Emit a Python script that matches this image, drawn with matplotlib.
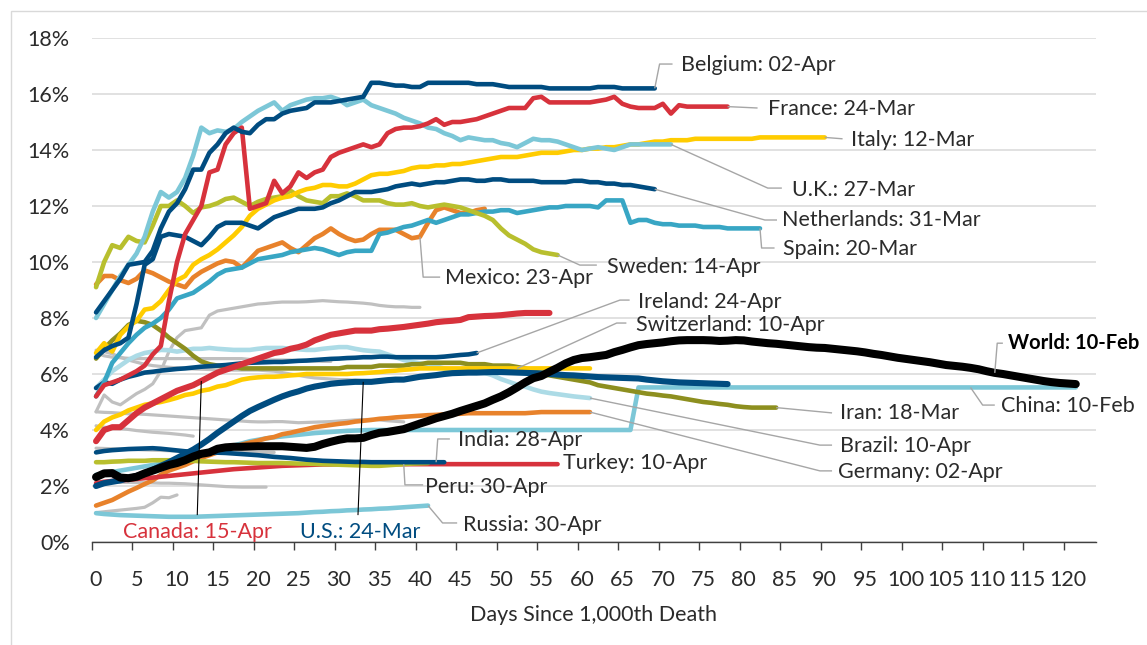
import numpy as np
import matplotlib
matplotlib.use("Agg")
import matplotlib.pyplot as plt
from matplotlib.patches import Rectangle

plt.rcParams['font.family'] = ['Lato', 'DejaVu Sans']

# ---------------- data (case fatality rate, %, by days since 1,000th death) ----------------
belgium = [8.2, 8.6, 9.0, 9.4, 9.9, 9.95, 10.0, 10.4, 11.2, 11.8,
           12.1, 12.6, 13.3, 13.3, 13.9, 14.2, 14.6, 14.8, 14.65, 14.6,
           14.9, 15.1, 15.1, 15.3, 15.4, 15.45, 15.5, 15.7, 15.7, 15.7,
           15.75, 15.8, 15.85, 15.9, 16.4, 16.4, 16.35, 16.3, 16.3, 16.25,
           16.25, 16.4, 16.4, 16.4, 16.4, 16.4, 16.4, 16.35, 16.35, 16.35,
           16.3, 16.25, 16.25, 16.25, 16.25, 16.25, 16.2, 16.2, 16.2, 16.2,
           16.2, 16.2, 16.25, 16.25, 16.25, 16.2, 16.2, 16.2, 16.2, 16.2]
france = [5.2, 5.6, 5.7, 5.8, 5.95, 6.1, 6.3, 6.7, 7.0, 8.6,
          10.0, 11.0, 11.5, 12.0, 13.2, 13.3, 14.2, 14.6, 14.8, 11.9,
          12.0, 12.1, 12.9, 12.45, 12.7, 13.2, 13.0, 13.2, 13.3, 13.75,
          13.9, 14.0, 14.1, 14.2, 14.1, 14.2, 14.6, 14.75, 14.8, 14.8,
          14.85, 14.95, 15.1, 14.9, 15.0, 15.0, 15.05, 15.1, 15.2, 15.3,
          15.4, 15.5, 15.5, 15.5, 15.85, 15.9, 15.7, 15.7, 15.7, 15.7,
          15.7, 15.7, 15.75, 15.8, 15.9, 15.65, 15.55, 15.5, 15.5, 15.5,
          15.65, 15.3, 15.6, 15.55, 15.55, 15.55, 15.55, 15.55, 15.55]
italy = [6.75, 7.1, 6.8, 7.4, 7.7, 7.9, 8.3, 8.35, 8.6, 9.0,
         9.35, 9.5, 9.9, 10.1, 10.25, 10.45, 10.7, 10.95, 11.25, 11.65,
         11.9, 12.05, 12.2, 12.3, 12.35, 12.5, 12.6, 12.65, 12.75, 12.75,
         12.7, 12.7, 12.8, 12.95, 13.1, 13.15, 13.15, 13.2, 13.25, 13.35,
         13.4, 13.4, 13.45, 13.45, 13.5, 13.5, 13.55, 13.6, 13.65, 13.7,
         13.75, 13.75, 13.75, 13.8, 13.85, 13.9, 13.9, 13.9, 13.95, 14.0,
         14.0, 14.05, 14.05, 14.1, 14.1, 14.15, 14.2, 14.2, 14.25, 14.3,
         14.3, 14.35, 14.35, 14.35, 14.4, 14.4, 14.4, 14.4, 14.4, 14.4,
         14.4, 14.4, 14.45, 14.45, 14.45, 14.45, 14.45, 14.45, 14.45, 14.45,
         14.45]
uk = [8.0, 8.5, 9.0, 9.5, 9.9, 10.3, 10.9, 11.8, 12.5, 12.3,
      12.5, 13.0, 13.8, 14.8, 14.6, 14.7, 14.65, 14.75, 15.0, 15.2,
      15.4, 15.55, 15.7, 15.4, 15.6, 15.7, 15.8, 15.85, 15.85, 15.9,
      15.8, 15.6, 15.7, 15.8, 15.6, 15.5, 15.4, 15.3, 15.15, 15.05,
      14.95, 14.8, 14.75, 14.6, 14.5, 14.35, 14.45, 14.4, 14.35, 14.35,
      14.25, 14.2, 14.1, 14.25, 14.4, 14.35, 14.35, 14.3, 14.2, 14.1,
      14.0, 14.05, 14.1, 14.05, 14.0, 14.1, 14.2, 14.2, 14.2, 14.2,
      14.2, 14.2]
netherlands = [6.6, 6.85, 7.0, 7.1, 7.3, 8.5, 9.9, 10.1, 10.9, 11.0,
               10.95, 10.9, 10.75, 10.6, 10.9, 11.25, 11.4, 11.4, 11.4, 11.3,
               11.2, 11.4, 11.6, 11.7, 11.8, 11.9, 11.9, 11.9, 11.95, 12.1,
               12.2, 12.35, 12.5, 12.5, 12.5, 12.55, 12.6, 12.7, 12.75, 12.8,
               12.75, 12.8, 12.85, 12.85, 12.9, 12.95, 12.95, 12.9, 12.9, 12.95,
               12.95, 12.9, 12.9, 12.9, 12.9, 12.85, 12.85, 12.85, 12.85, 12.9,
               12.9, 12.85, 12.85, 12.8, 12.8, 12.75, 12.75, 12.7, 12.65, 12.6]
spain = [5.2, 5.7, 6.4, 6.75, 7.1, 7.4, 7.65, 7.8, 8.0, 8.3,
         8.7, 8.8, 8.9, 9.1, 9.3, 9.55, 9.7, 9.75, 9.8, 9.95,
         10.1, 10.15, 10.2, 10.25, 10.35, 10.4, 10.45, 10.5, 10.45, 10.35,
         10.25, 10.35, 10.4, 10.4, 10.4, 11.0, 11.05, 11.15, 11.25, 11.3,
         11.4, 11.5, 11.4, 11.5, 11.6, 11.7, 11.7, 11.75, 11.8, 11.8,
         11.85, 11.85, 11.75, 11.8, 11.85, 11.9, 11.95, 11.95, 12.0, 12.0,
         12.0, 12.0, 11.95, 12.2, 12.2, 12.2, 11.4, 11.5, 11.5, 11.4,
         11.35, 11.35, 11.3, 11.3, 11.3, 11.25, 11.25, 11.25, 11.2, 11.2,
         11.2, 11.2, 11.2]
sweden = [9.1, 10.0, 10.6, 10.5, 10.9, 10.75, 10.7, 11.3, 12.0, 12.0,
          12.2, 12.0, 11.75, 11.95, 12.0, 12.1, 12.25, 12.3, 12.15, 12.0,
          12.15, 12.25, 12.3, 12.35, 12.55, 12.35, 12.2, 12.15, 12.1, 12.35,
          12.35, 12.45, 12.35, 12.2, 12.2, 12.2, 12.1, 12.05, 12.05, 12.1,
          12.0, 11.95, 12.0, 12.05, 12.0, 11.95, 11.85, 11.75, 11.65, 11.5,
          11.2, 10.95, 10.8, 10.65, 10.45, 10.35, 10.3, 10.25]
mexico = [9.2, 9.5, 9.5, 9.35, 9.25, 9.4, 9.7, 9.6, 9.45, 9.3,
          9.2, 9.1, 9.45, 9.65, 9.8, 9.95, 10.05, 10.0, 9.8, 10.1,
          10.4, 10.5, 10.6, 10.7, 10.5, 10.35, 10.6, 10.85, 11.0, 11.2,
          11.0, 10.85, 10.75, 10.8, 11.0, 11.15, 11.15, 11.15, 11.0, 10.85,
          10.9, 11.4, 11.85, 11.95, 11.85, 11.75, 11.75, 11.85, 11.9]
iran = [6.55, 6.9, 7.2, 7.45, 7.75, 7.9, 7.85, 7.75, 7.55, 7.3,
        7.1, 6.9, 6.65, 6.45, 6.35, 6.3, 6.25, 6.25, 6.2, 6.2,
        6.2, 6.2, 6.2, 6.2, 6.2, 6.2, 6.2, 6.2, 6.2, 6.2,
        6.2, 6.25, 6.25, 6.25, 6.25, 6.3, 6.3, 6.3, 6.3, 6.35,
        6.35, 6.4, 6.4, 6.4, 6.4, 6.4, 6.35, 6.35, 6.35, 6.3,
        6.3, 6.3, 6.25, 6.2, 6.1, 6.0, 5.95, 5.9, 5.85, 5.8,
        5.75, 5.7, 5.6, 5.55, 5.5, 5.45, 5.4, 5.35, 5.3, 5.27,
        5.23, 5.2, 5.15, 5.1, 5.05, 5.0, 4.97, 4.93, 4.9, 4.85,
        4.82, 4.8, 4.8, 4.8, 4.8]
switzerland = [4.0, 4.3, 4.45, 4.55, 4.7, 4.8, 4.9, 4.95, 5.0, 5.07,
               5.15, 5.25, 5.3, 5.4, 5.45, 5.55, 5.6, 5.7, 5.8, 5.85,
               5.88, 5.9, 5.9, 5.92, 5.95, 5.97, 6.0, 6.0, 6.0, 6.0,
               6.0, 6.0, 6.02, 6.03, 6.05, 6.07, 6.1, 6.12, 6.15, 6.17,
               6.2, 6.2, 6.2, 6.2, 6.2, 6.2, 6.2, 6.2, 6.2, 6.2,
               6.2, 6.2, 6.2, 6.2, 6.2, 6.2, 6.2, 6.2, 6.2, 6.2,
               6.2, 6.2]
ireland = [5.5, 5.7, 5.65, 5.8, 5.9, 5.97, 6.05, 6.08, 6.12, 6.15,
           6.18, 6.2, 6.23, 6.26, 6.28, 6.3, 6.32, 6.35, 6.38, 6.4,
           6.41, 6.42, 6.43, 6.43, 6.45, 6.47, 6.48, 6.5, 6.52, 6.54,
           6.55, 6.57, 6.58, 6.6, 6.6, 6.62, 6.62, 6.6, 6.6, 6.6,
           6.6, 6.6, 6.6, 6.62, 6.65, 6.68, 6.7, 6.75]
brazil = [5.5, 5.8, 6.1, 6.3, 6.5, 6.65, 6.75, 6.8, 6.86, 6.85,
          6.8, 6.85, 6.9, 6.9, 6.93, 6.9, 6.88, 6.86, 6.86, 6.86,
          6.9, 6.93, 6.93, 6.93, 6.9, 6.88, 6.86, 6.86, 6.9, 6.93,
          6.96, 6.96, 6.9, 6.85, 6.82, 6.8, 6.7, 6.6, 6.5, 6.43,
          6.38, 6.32, 6.27, 6.2, 6.13, 6.08, 6.06, 6.05, 6.04, 5.95,
          5.82, 5.72, 5.62, 5.55, 5.45, 5.37, 5.32, 5.28, 5.24, 5.2,
          5.17, 5.14]
germany = [1.3, 1.4, 1.5, 1.65, 1.8, 1.93, 2.07, 2.2, 2.4, 2.55,
           2.65, 2.75, 2.88, 3.0, 3.1, 3.2, 3.3, 3.4, 3.48, 3.55,
           3.62, 3.7, 3.75, 3.85, 3.9, 3.97, 4.03, 4.1, 4.14, 4.18,
           4.22, 4.25, 4.3, 4.33, 4.36, 4.4, 4.42, 4.45, 4.47, 4.49,
           4.51, 4.53, 4.54, 4.56, 4.57, 4.58, 4.6, 4.6, 4.6, 4.6,
           4.6, 4.6, 4.6, 4.6, 4.62, 4.64, 4.64, 4.64, 4.64, 4.64,
           4.64, 4.64]
china = [2.4, 2.45, 2.5, 2.55, 2.6, 2.65, 2.7, 2.75, 2.8, 2.85,
         2.9, 3.0, 3.05, 3.1, 3.2, 3.3, 3.38, 3.45, 3.52, 3.6,
         3.65, 3.7, 3.74, 3.77, 3.8, 3.83, 3.86, 3.89, 3.91, 3.93,
         3.95, 3.97, 3.98, 3.99, 4.0, 4.0, 4.0, 4.0, 4.0, 4.0,
         4.0, 4.0, 4.0, 4.0, 4.0, 4.0, 4.0, 4.0, 4.0, 4.0,
         4.0, 4.0, 4.0, 4.0, 4.0, 4.0, 4.0, 4.0, 4.0, 4.0,
         4.0, 4.0, 4.0, 4.0, 4.0, 4.0, 4.0, 5.52, 5.52, 5.52,
         5.52, 5.52, 5.52, 5.52, 5.52, 5.52, 5.52, 5.52, 5.52, 5.52,
         5.52, 5.52, 5.52, 5.52, 5.52, 5.52, 5.52, 5.52, 5.52, 5.52,
         5.52, 5.52, 5.52, 5.52, 5.52, 5.52, 5.52, 5.52, 5.52, 5.52,
         5.52, 5.52, 5.52, 5.52, 5.52, 5.52, 5.52, 5.52, 5.52, 5.52,
         5.52, 5.52, 5.52, 5.52, 5.52, 5.52, 5.52, 5.52, 5.52, 5.52,
         5.52, 5.52]
russia = [1.03, 1.0, 0.98, 0.96, 0.95, 0.94, 0.93, 0.92, 0.91, 0.9,
          0.9, 0.9, 0.9, 0.91, 0.92, 0.93, 0.94, 0.95, 0.96, 0.97,
          0.98, 0.99, 1.0, 1.01, 1.02, 1.03, 1.05, 1.07, 1.08, 1.1,
          1.11, 1.13, 1.14, 1.16, 1.17, 1.19, 1.2, 1.22, 1.24, 1.26,
          1.28, 1.3]
peru = [2.85, 2.85, 2.87, 2.88, 2.9, 2.9, 2.9, 2.92, 2.92, 2.92,
        2.92, 2.9, 2.9, 2.88, 2.87, 2.86, 2.85, 2.85, 2.84, 2.83,
        2.82, 2.82, 2.82, 2.82, 2.81, 2.8, 2.8, 2.79, 2.78, 2.77,
        2.76, 2.75, 2.74, 2.73, 2.72, 2.72, 2.74, 2.76, 2.78, 2.8,
        2.81, 2.82]
india = [3.2, 3.25, 3.28, 3.3, 3.32, 3.33, 3.34, 3.35, 3.33, 3.3,
         3.27, 3.24, 3.22, 3.2, 3.2, 3.19, 3.18, 3.16, 3.14, 3.12,
         3.1, 3.07, 3.04, 3.02, 3.0, 2.97, 2.94, 2.92, 2.9, 2.89,
         2.88, 2.87, 2.86, 2.86, 2.85, 2.85, 2.85, 2.85, 2.85, 2.85,
         2.85, 2.85, 2.85, 2.85]
turkey = [2.1, 2.15, 2.18, 2.2, 2.22, 2.25, 2.28, 2.3, 2.33, 2.36,
          2.39, 2.42, 2.45, 2.48, 2.51, 2.54, 2.57, 2.6, 2.62, 2.64,
          2.66, 2.68, 2.7, 2.72, 2.73, 2.74, 2.75, 2.76, 2.77, 2.77,
          2.78, 2.78, 2.78, 2.78, 2.78, 2.78, 2.78, 2.78, 2.78, 2.78,
          2.78, 2.78, 2.78, 2.78, 2.78, 2.78, 2.78, 2.78, 2.78, 2.78,
          2.78, 2.78, 2.78, 2.78, 2.78, 2.78, 2.78, 2.78]
canada = [3.6, 4.0, 4.1, 4.1, 4.35, 4.6, 4.8, 4.95, 5.1, 5.25,
          5.4, 5.5, 5.6, 5.75, 5.9, 6.05, 6.15, 6.25, 6.35, 6.45,
          6.55, 6.65, 6.75, 6.8, 6.9, 6.96, 7.05, 7.2, 7.3, 7.4,
          7.45, 7.5, 7.55, 7.55, 7.55, 7.6, 7.62, 7.65, 7.68, 7.72,
          7.76, 7.8, 7.85, 7.88, 7.9, 7.93, 8.03, 8.05, 8.07, 8.08,
          8.1, 8.13, 8.16, 8.18, 8.18, 8.18, 8.18]
us = [2.0, 2.1, 2.15, 2.2, 2.28, 2.36, 2.45, 2.58, 2.72, 2.85,
      3.0, 3.15, 3.3, 3.48, 3.68, 3.9, 4.1, 4.3, 4.5, 4.68,
      4.82, 4.95, 5.08, 5.2, 5.3, 5.38, 5.48, 5.55, 5.6, 5.65,
      5.68, 5.7, 5.72, 5.72, 5.72, 5.75, 5.78, 5.8, 5.8, 5.85,
      5.9, 5.93, 5.96, 6.0, 6.03, 6.04, 6.05, 6.05, 6.06, 6.07,
      6.07, 6.06, 6.05, 6.04, 6.03, 6.02, 6.0, 5.98, 5.96, 5.95,
      5.93, 5.91, 5.89, 5.88, 5.87, 5.86, 5.85, 5.84, 5.8, 5.77,
      5.74, 5.72, 5.7, 5.69, 5.68, 5.67, 5.66, 5.65, 5.64]
world = [2.32, 2.45, 2.46, 2.3, 2.28, 2.33, 2.45, 2.55, 2.65, 2.75,
         2.82, 2.92, 3.05, 3.15, 3.2, 3.33, 3.38, 3.4, 3.4, 3.41,
         3.42, 3.42, 3.42, 3.42, 3.4, 3.38, 3.36, 3.4, 3.5, 3.58,
         3.65, 3.7, 3.7, 3.72, 3.82, 3.9, 3.93, 3.98, 4.03, 4.13,
         4.23, 4.32, 4.42, 4.5, 4.58, 4.68, 4.77, 4.86, 4.95, 5.08,
         5.2, 5.35, 5.52, 5.7, 5.85, 5.93, 6.08, 6.22, 6.38, 6.5,
         6.57, 6.6, 6.64, 6.68, 6.78, 6.86, 6.95, 7.03, 7.07, 7.1,
         7.13, 7.17, 7.2, 7.21, 7.21, 7.21, 7.2, 7.18, 7.19, 7.21,
         7.2, 7.16, 7.13, 7.1, 7.08, 7.05, 7.02, 6.99, 6.96, 6.94,
         6.93, 6.9, 6.87, 6.84, 6.81, 6.77, 6.72, 6.68, 6.63, 6.58,
         6.54, 6.5, 6.46, 6.42, 6.37, 6.32, 6.29, 6.26, 6.22, 6.17,
         6.1, 6.04, 6.0, 5.95, 5.9, 5.85, 5.8, 5.75, 5.71, 5.68,
         5.66, 5.64]
# unlabeled countries (grey)
grey_a = [4.65, 5.25, 5.0, 4.9, 5.1, 5.3, 5.45, 5.65, 6.1, 6.8,
          7.3, 7.55, 7.6, 7.65, 8.1, 8.25, 8.3, 8.35, 8.4, 8.45,
          8.5, 8.52, 8.55, 8.57, 8.57, 8.57, 8.58, 8.6, 8.62, 8.6,
          8.58, 8.57, 8.55, 8.53, 8.5, 8.45, 8.42, 8.4, 8.4, 8.38, 8.38]
grey_b = [6.75, 6.65, 6.6, 6.58, 6.56, 6.55, 6.55, 6.55, 6.55, 6.55,
          6.55, 6.55, 6.55, 6.55, 6.55, 6.55, 6.55, 6.55, 6.55, 6.52,
          6.5, 6.5, 6.5, 6.5, 6.5, 6.48, 6.47, 6.46, 6.45, 6.45]
grey_c = [6.85, 6.8, 6.72, 6.6, 6.5, 6.42, 6.35, 6.3, 6.27, 6.24,
          6.22, 6.2, 6.18, 6.17, 6.16, 6.15, 6.15, 6.14, 6.14, 6.14,
          6.14, 6.12, 6.1, 6.05, 6.0, 5.95, 5.9, 5.86, 5.84, 5.82,
          5.8, 5.8, 5.78, 5.76, 5.75]
grey_d = [4.65, 4.63, 4.62, 4.6, 4.58, 4.57, 4.56, 4.54, 4.52, 4.5,
          4.48, 4.46, 4.44, 4.42, 4.4, 4.38, 4.36, 4.34, 4.32, 4.3,
          4.29, 4.29, 4.3, 4.3, 4.28, 4.26, 4.27, 4.28, 4.29, 4.3,
          4.32, 4.34, 4.36, 4.37, 4.38, 4.36, 4.33, 4.31, 4.29]
grey_e = [4.15, 4.1, 4.07, 4.05, 4.02, 3.98, 3.95, 3.92, 3.9, 3.88,
          3.85, 3.82, 3.78]
grey_f = [3.35, 3.34, 3.33, 3.32, 3.31, 3.3, 3.29, 3.28, 3.27, 3.26,
          3.25, 3.24, 3.23, 3.22, 3.21, 3.21, 3.2, 3.2, 3.2, 3.2,
          3.2, 3.2, 3.2]
grey_g = [2.15, 2.14, 2.14, 2.13, 2.13, 2.12, 2.12, 2.11, 2.1, 2.1,
          2.09, 2.08, 2.06, 2.04, 2.02, 2.0, 1.98, 1.97, 1.96, 1.96,
          1.96, 1.96]
grey_h = [1.05, 1.08, 1.11, 1.14, 1.17, 1.2, 1.24, 1.4, 1.6, 1.58, 1.68]

x_ticks = list(range(0, 121, 5))
y_ticks = list(range(0, 19, 2))

# ---------------- styles ----------------
DB = '#004c80'; RED = '#d7323c'; LB = '#7cc7d7'; MB = '#38a6c4'; PB = '#acdbe6'
YEL = '#ffcc00'; ORA = '#e8822b'; OLY = '#b8bf2e'; OLD = '#8d8f1f'; GRY = '#c0c0c0'
TXT = '#2b2b2b'; LEAD = '#a6a6a6'
FS = 15.5

W, H = 1147, 645
fig = plt.figure(figsize=(W / 100, H / 100), dpi=100)
fig.patches.append(Rectangle((11 / W, -0.1), 1.2, (H - 11) / H + 0.1, transform=fig.transFigure,
                             fill=False, edgecolor='#d9d9d9', lw=1.0))
ax = fig.add_axes([92 / W, (H - 542) / H, (1096 - 92) / W, (542 - 38) / H])

def line(vals, color, lw, z):
    ax.plot(np.arange(len(vals)), vals, color=color, lw=lw, zorder=z,
            solid_capstyle='round', solid_joinstyle='round')

for g in (grey_a, grey_b, grey_c, grey_d, grey_e, grey_f, grey_g, grey_h):
    line(g, GRY, 2.3, 2)

series = [
    (china, LB), (russia, LB), (germany, ORA), (turkey, RED), (peru, OLY), (india, DB),
    (brazil, PB), (iran, OLD), (switzerland, YEL), (ireland, DB), (mexico, ORA),
    (spain, MB), (sweden, OLY), (italy, YEL), (netherlands, DB), (uk, LB),
    (france, RED), (belgium, DB),
]
for vals, col in series:
    line(vals, col, 3.3, 3)
line(canada, RED, 4.4, 4)
line(us, DB, 4.4, 4)
line(world, 'black', 5.8, 5)

# ---------------- labels with leader lines ----------------
def label(text, tx, ty, color=TXT, vals=None, day=None, path=(), weight='normal',
          lcol=LEAD, lw=1.0, fs=FS):
    if vals is not None:
        d = len(vals) - 1 if day is None else day
        xs = [d] + [p[0] for p in path]
        ys = [vals[d]] + [p[1] for p in path]
        ax.plot(xs, ys, color=lcol, lw=lw, zorder=6, clip_on=False, solid_capstyle='butt')
    ax.text(tx, ty, text, color=color, fontsize=fs, va='center', ha='left',
            fontweight=weight, zorder=7, clip_on=False)

label('Belgium: 02-Apr', 72.3, 17.04, vals=belgium, path=[(69.6, 17.07), (71.2, 17.07)])
label('France: 24-Mar', 82.96, 15.46, vals=france, path=[(81.7, 15.5)])
label('Italy: 12-Mar', 93.2, 14.36, vals=italy, path=[(92.2, 14.4)])
label('U.K.: 27-Mar', 85.9, 12.57, vals=uk, path=[(82.96, 12.64), (84.7, 12.64)])
label('Netherlands: 31-Mar', 84.7, 11.5, vals=netherlands, path=[(82.6, 11.5), (84.1, 11.5)])
label('Spain: 20-Mar', 84.8, 10.46, vals=spain, path=[(82.2, 10.5), (83.8, 10.5)])
label('Sweden: 14-Apr', 63.1, 9.82, vals=sweden, path=[(59.75, 9.89), (61.85, 9.89)])
label('Mexico: 23-Apr', 43.1, 9.43, vals=mexico, day=40, path=[(40.4, 9.46), (42.5, 9.46)])
label('Ireland: 24-Apr', 66.9, 8.57, vals=ireland, path=[(64.7, 8.64), (65.9, 8.64)])
label('Switzerland: 10-Apr', 66.7, 7.75, vals=switzerland, day=52, path=[(64.3, 7.82), (65.5, 7.82)])
label('World: 10-Feb', 112.6, 7.1, color='black', vals=world, day=111,
      path=[(111.3, 7.1), (112.0, 7.1)], weight='bold', fs=14.5)
label('China: 10-Feb', 111.8, 4.86, vals=china, day=108, path=[(109.5, 4.89), (111.0, 4.89)])
label('Iran: 18-Mar', 91.85, 4.61, vals=iran, path=[(90.9, 4.61)])
label('Brazil: 10-Apr', 91.85, 3.43, vals=brazil, path=[(89.4, 3.46), (90.9, 3.46)])
label('Germany: 02-Apr', 91.6, 2.5, vals=germany, path=[(89.4, 2.54), (90.9, 2.54)])
label('India: 28-Apr', 44.7, 3.64, vals=india, day=42, path=[(42.2, 3.68), (43.7, 3.68)])
label('Turkey: 10-Apr', 57.65, 2.82)
label('Peru: 30-Apr', 40.6, 1.96, vals=peru, day=38, path=[(38.15, 2.04), (40.4, 2.04)])
label('Russia: 30-Apr', 45.3, 0.61, vals=russia, path=[(42.8, 0.68), (44.6, 0.68)])
label('Canada: 15-Apr', 3.33, 0.36, color=RED, vals=canada, day=13, path=[(12.5, 0.96)],
      lcol='black', lw=0.8)
label('U.S.: 24-Mar', 25.2, 0.36, color=DB, vals=us, day=33, path=[(32.35, 0.96)],
      lcol='black', lw=0.8)

# ---------------- axes ----------------
ax.set_xlim(-0.5, 123.5)
ax.set_ylim(0, 18)
ax.set_yticks(y_ticks)
ax.set_yticklabels([f'{v}%' for v in y_ticks])
ax.set_xticks(x_ticks)
ax.set_xticklabels([str(v) for v in x_ticks])
ax.set_xticks([v - 0.5 for v in x_ticks], minor=True)
ax.tick_params(axis='y', length=0, pad=16, labelsize=FS, labelcolor=TXT)
ax.tick_params(axis='x', which='major', length=0, pad=20, labelsize=FS, labelcolor=TXT)
ax.tick_params(axis='x', which='minor', length=6, width=1.0, color='#404040', direction='out')
for s in ('top', 'right', 'left'):
    ax.spines[s].set_visible(False)
ax.spines['bottom'].set_color('#404040')
ax.spines['bottom'].set_linewidth(1.0)
ax.spines['bottom'].set_zorder(1)
ax.grid(axis='y', color='#d9d9d9', lw=1.1, zorder=0)
ax.set_axisbelow(True)
ax.set_xlabel('Days Since 1,000th Death', fontsize=FS, color=TXT, labelpad=11)

fig.savefig('out.png', dpi=100)
